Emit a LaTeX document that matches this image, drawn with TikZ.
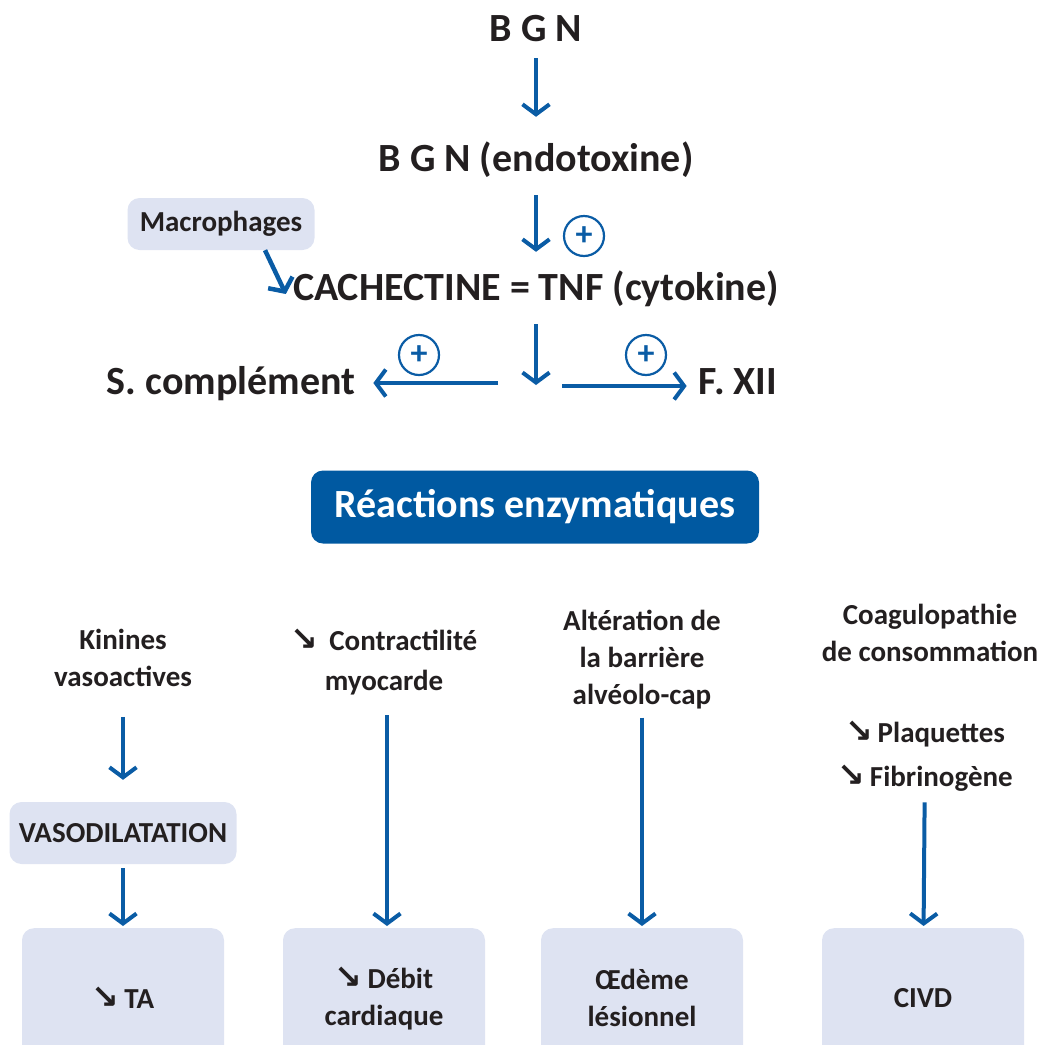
\documentclass[tikz,border=0pt]{standalone}
\usepackage{fontspec}
\setmainfont{Carlito}
\newfontfamily\symfont{DejaVu Sans}
\usetikzlibrary{arrows.meta}

\definecolor{flowblue}{HTML}{0A5CA5}
\definecolor{boxgrey}{HTML}{DEE3F2}
\definecolor{titleblue}{HTML}{0059A1}
\definecolor{inkblack}{HTML}{231F20}

\newcommand{\baisse}{{\symfont\fontsize{33}{37}\selectfont\char"2198}\hspace{5pt}}

\tikzset{
	big/.style={font=\fontsize{40}{46}\selectfont\bfseries, text=inkblack, inner sep=0pt, text height=26pt, text depth=0pt},
	small/.style={font=\fontsize{29}{37}\selectfont\bfseries, text=inkblack, inner sep=0pt, align=center},
	flow/.style={draw=flowblue, line width=4pt, -{Straight Barb[length=10pt,width=27pt]}},
	plus/.style={circle, draw=flowblue, line width=2.2pt, minimum size=40pt, inner sep=0pt, text=flowblue, font=\fontsize{34}{34}\selectfont\bfseries},
	lightbox/.style={fill=boxgrey, rounded corners=12pt}
}

\begin{document}
\begin{tikzpicture}[x=1pt,y=-1pt]
		\clip (0,0) rectangle (1042,1045);

		\node[big] (bgn) at (536,28) {B G N};
		\node[big] (endo) at (536,158) {B G N (endotoxine)};
		\node[big] (tnf) at (536,287) {CACHECTINE = TNF (cytokine)};
		\node[big] (compl) at (231,381) {S. complément};
		\node[big] (fxii) at (738,381) {F. XII};
		\node[lightbox, small, minimum width=187pt, minimum height=52pt] (macro) at (221,224) {Macrophages};

		\node[plus] (plusA) at (584,236) {+};
		\node[plus] (plusB) at (419,355) {+};
		\node[plus] (plusC) at (646,355) {+};

		\coordinate (fork) at (536,385);
		\coordinate (forkL) at (498,383);
		\coordinate (forkR) at (562,386);

		\draw[flow, shorten <=17pt, shorten >=28pt] (bgn) -- (endo);
		\draw[flow, shorten <=24pt, shorten >=22pt] (endo) -- (tnf);
		\draw[flow, shorten <=24pt] (tnf) -- (fork);
		\draw[flow, shorten >=18pt] (forkL) -- (forkL -| compl.east);
		\draw[flow, shorten >=12pt] (forkR) -- (forkR -| fxii.west);
		\draw[flow, line width=4.5pt] ([xshift=44pt]macro.south) -- ([xshift=-7pt,yshift=-7pt]tnf.west);

		\node[fill=titleblue, rounded corners=12pt, text=white, font=\fontsize{40}{46}\selectfont\bfseries, minimum width=448pt, minimum height=73pt] (enz) at (535,507) {Réactions enzymatiques};

		\node[small] (kin) at (123,658) {Kinines\\vasoactives};
		\node[lightbox, small, minimum width=227pt, minimum height=62pt] (vaso) at (123,833) {VASODILATATION};
		\node[lightbox, small, minimum width=202pt, minimum height=140pt, anchor=north] (ta) at (123,928) {\baisse TA};

		\node[small, font=\fontsize{29}{40}\selectfont\bfseries] (contr) at (384,662) {\baisse\hspace{6pt}Contractilité\\myocarde};
		\node[lightbox, small, minimum width=202pt, minimum height=140pt, anchor=north] (debit) at (384,928) {\baisse Débit\\cardiaque};

		\node[small] (alter) at (642,660) {Altération de\\la barrière\\alvéolo-cap};
		\node[lightbox, small, minimum width=202pt, minimum height=140pt, anchor=north] (oedeme) at (642,928) {Œdème\\lésionnel};

		\node[small] (coag) at (930,633) {Coagulopathie\\de consommation};
		\node[small, font=\fontsize{29}{44}\selectfont\bfseries] (plaq) at (925,756) {\baisse Plaquettes\\\baisse Fibrinogène};
		\node[lightbox, small, minimum width=202pt, minimum height=140pt, anchor=north] (civd) at (923,928) {CIVD};

		\draw[flow, shorten <=30pt, shorten >=22pt] (kin) -- (kin |- vaso.north);
		\draw[flow, shorten <=4pt, shorten >=2pt] (vaso) -- (ta);
		\draw[flow, shorten <=20pt, shorten >=2pt] ([xshift=3pt]contr.south) -- ([xshift=3pt]debit.north);
		\draw[flow, shorten <=8pt, shorten >=2pt] (alter) -- (oedeme);
		\draw[flow, shorten <=11pt, shorten >=2pt] (plaq) -- (civd);
\end{tikzpicture}
\end{document}
